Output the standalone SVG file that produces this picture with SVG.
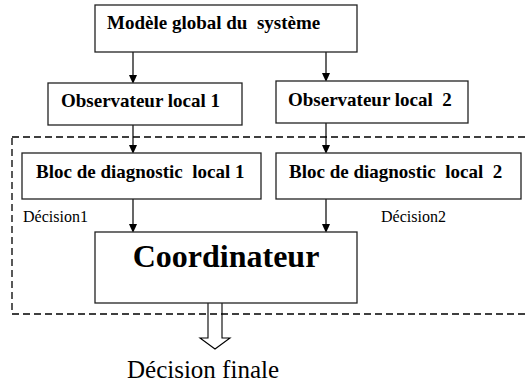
<svg xmlns="http://www.w3.org/2000/svg" width="525" height="385" viewBox="0 0 525 385">
<style>
.box{fill:#fff;stroke:#222;stroke-width:1.3}
.ln{stroke:#000;stroke-width:1.2;fill:none}
.hd{fill:#000;stroke:none}
</style>
<rect width="525" height="385" fill="#fff"/>
<rect id="boundary" x="12" y="137" width="520" height="177" fill="none" stroke="#000" stroke-width="1.3" stroke-dasharray="7,4"/>
<g id="connectors">
<line class="ln" x1="133" y1="52" x2="133" y2="76"/><polygon class="hd" points="129,75 137,75 133,84"/>
<line class="ln" x1="326" y1="52" x2="326" y2="74"/><polygon class="hd" points="322,73 330,73 326,82"/>
<line class="ln" x1="133" y1="125" x2="133" y2="146"/><polygon class="hd" points="129,145 137,145 133,154"/>
<line class="ln" x1="326" y1="123" x2="326" y2="146"/><polygon class="hd" points="322,145 330,145 326,154"/>
<line class="ln" x1="133" y1="199" x2="133" y2="225"/><polygon class="hd" points="129,224 137,224 133,233"/>
<line class="ln" x1="326" y1="199" x2="326" y2="225"/><polygon class="hd" points="322,224 330,224 326,233"/>
<path d="M208,303 V338 H200 L215,349 L230,338 H222 V303" fill="none" stroke="#000" stroke-width="1.1"/>
</g>
<g font-family="Liberation Serif, Times New Roman, serif" font-weight="bold" fill="#000">
<g id="modele"><rect class="box" x="95" y="5" width="262" height="47"/><text x="107" y="29" font-size="19" xml:space="preserve">Modèle global du  système</text></g>
<g id="obs1"><rect class="box" x="48" y="83" width="194" height="42"/><text x="61" y="107" font-size="19">Observateur local 1</text></g>
<g id="obs2"><rect class="box" x="276" y="81" width="192" height="42"/><text x="288" y="106" font-size="19" xml:space="preserve">Observateur local  2</text></g>
<g id="bloc1"><rect class="box" x="22" y="153" width="239" height="46"/><text x="36" y="178" font-size="19" xml:space="preserve">Bloc de diagnostic  local 1</text></g>
<g id="bloc2"><rect class="box" x="276" y="153" width="245" height="46"/><text x="289" y="178" font-size="19" xml:space="preserve">Bloc de diagnostic  local  2</text></g>
<g id="coord"><rect class="box" x="95" y="232" width="262" height="71"/><text x="226" y="267" font-size="32" text-anchor="middle">Coordinateur</text></g>
</g>
<g font-family="Liberation Serif, Times New Roman, serif" fill="#000">
<text x="23" y="222" font-size="16">Décision1</text>
<text x="381" y="222" font-size="16">Décision2</text>
<text x="127" y="378" font-size="25">Décision finale</text>
</g>
</svg>
